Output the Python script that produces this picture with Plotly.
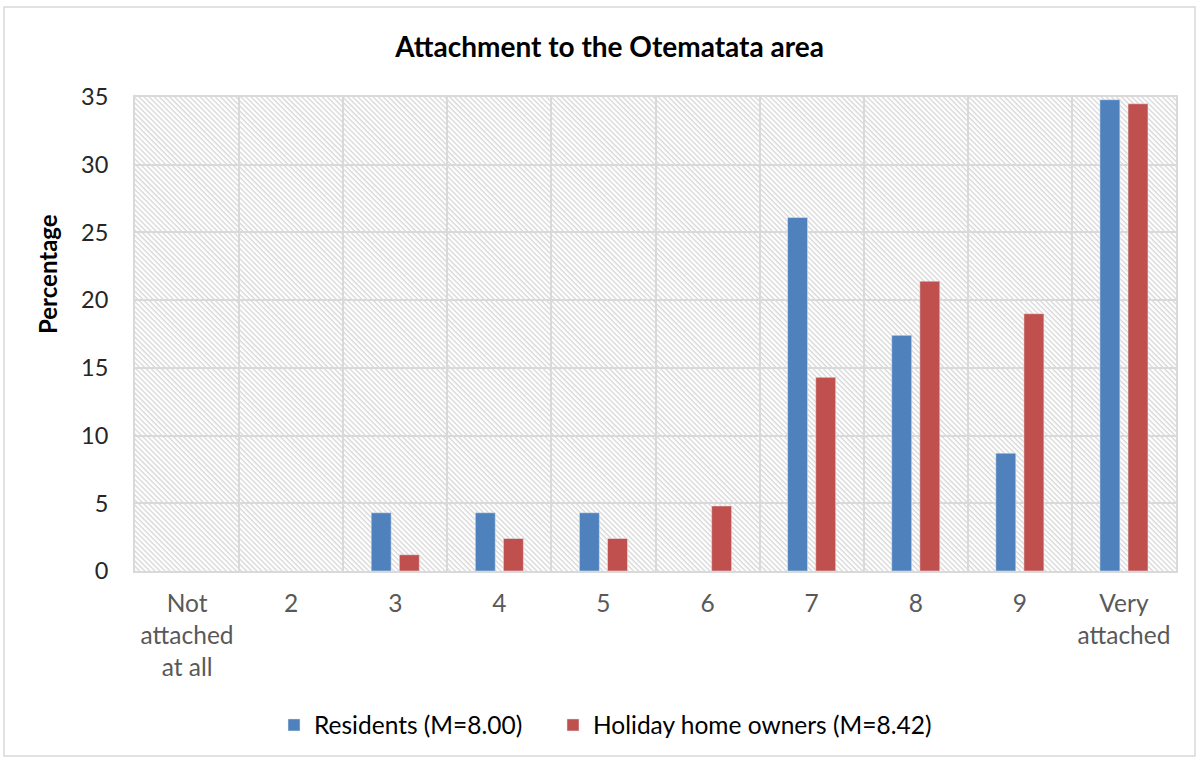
"""Attachment to the Otematata area - grouped bar chart."""

import base64
import plotly.graph_objects as go

categories = ["Not<br>attached<br>at all", "2", "3", "4", "5", "6", "7", "8", "9", "Very<br>attached"]
residents = [0, 0, 4.3, 4.3, 4.3, 0, 26.1, 17.4, 8.7, 34.8]
holiday_owners = [0, 0, 1.2, 2.4, 2.4, 4.8, 14.3, 21.4, 19.0, 34.5]
y_ticks = [0, 5, 10, 15, 20, 25, 30, 35]

FONT = "Lato"
x_pos = list(range(len(categories)))

# plot area in pixels
L, T, W, H = 135, 97, 1041, 474


def px_x(p):
    return (p - L) / W


def px_y(p):
    return (T + H - p) / H


# Diagonal hatch used as the plot-area background
hatch_svg = (
    '<svg xmlns="http://www.w3.org/2000/svg" width="1041" height="474" '
    'viewBox="0 0 1041 474" preserveAspectRatio="none">'
    '<defs><pattern id="h" width="3.6" height="3.6" patternUnits="userSpaceOnUse" '
    'patternTransform="rotate(45)">'
    '<rect width="3.6" height="3.6" fill="white"/>'
    '<rect width="3.6" height="1.3" fill="#d6d6d6"/></pattern></defs>'
    '<rect width="1041" height="474" fill="url(#h)"/></svg>'
)
hatch_src = "data:image/svg+xml;base64," + base64.b64encode(hatch_svg.encode()).decode()

fig = go.Figure()

fig.add_trace(go.Bar(
    x=x_pos,
    y=residents,
    name="Residents (M=8.00)",
    marker=dict(color="#4F81BD"),
    legend="legend",
    showlegend=True,
))

fig.add_trace(go.Bar(
    x=x_pos,
    y=holiday_owners,
    name="Holiday home owners (M=8.42)",
    marker=dict(color="#C0504D"),
    legend="legend2",
    showlegend=True,
))

# outer chart border
fig.add_shape(
    type="rect", xref="paper", yref="paper",
    x0=px_x(4), x1=px_x(1195), y0=px_y(756), y1=px_y(7),
    line=dict(color="#d9d9d9", width=1.5), fillcolor="rgba(0,0,0,0)",
)

fig.add_layout_image(
    source=hatch_src, xref="paper", yref="paper",
    x=0, y=1, sizex=1, sizey=1, sizing="stretch",
    xanchor="left", yanchor="top", layer="below",
)

# y axis title, placed like the original (above the plot centre)
fig.add_annotation(
    text="<b>Percentage</b>", textangle=-90,
    xref="paper", yref="paper", x=px_x(47), y=px_y(274),
    xanchor="center", yanchor="middle", showarrow=False,
    font=dict(family=FONT, size=24, color="#000000"),
)

legend_style = dict(
    orientation="h",
    xanchor="left",
    y=px_y(725), yanchor="middle",
    font=dict(family=FONT, size=24.5, color="#000000"),
    itemwidth=30,
)

fig.update_layout(
    showlegend=True,
    title=dict(
        text="<b>Attachment to the Otematata area</b>",
        x=0.508, xanchor="center", y=0.938, yanchor="middle",
        font=dict(family=FONT, size=28, color="#000000"),
    ),
    barmode="group",
    bargap=0.46,
    bargroupgap=0.29,
    xaxis=dict(
        range=[-0.5, 9.5],
        tickmode="array",
        tickvals=x_pos,
        ticktext=categories,
        showgrid=False,
        zeroline=False,
        ticks="outside",
        ticklen=10,
        tickcolor="rgba(0,0,0,0)",
        tickfont=dict(family=FONT, size=24.5, color="#595959"),
        minor=dict(tick0=0.5, dtick=1, showgrid=True, gridcolor="#d9d9d9", gridwidth=2),
        showline=True,
        linecolor="#d9d9d9",
        linewidth=2,
        mirror=True,
        fixedrange=True,
    ),
    yaxis=dict(
        range=[0, 35],
        tickmode="array",
        tickvals=y_ticks,
        showgrid=True,
        gridcolor="#d9d9d9",
        gridwidth=2,
        zeroline=False,
        ticks="outside",
        ticklen=20,
        tickcolor="rgba(0,0,0,0)",
        tickfont=dict(family=FONT, size=23.5, color="#262626"),
        showline=True,
        linecolor="#d9d9d9",
        linewidth=2,
        mirror=True,
    ),
    legend=dict(x=px_x(274), **legend_style),
    legend2=dict(x=px_x(553), **legend_style),
    plot_bgcolor="rgba(0,0,0,0)",
    paper_bgcolor="white",
    width=1200,
    height=760,
    margin=dict(l=L, r=1200 - L - W, t=T, b=760 - T - H),
)

fig.write_html(
    "out.html",
    config={"displayModeBar": False},
    post_script="document.body.style.margin='0';",
)
